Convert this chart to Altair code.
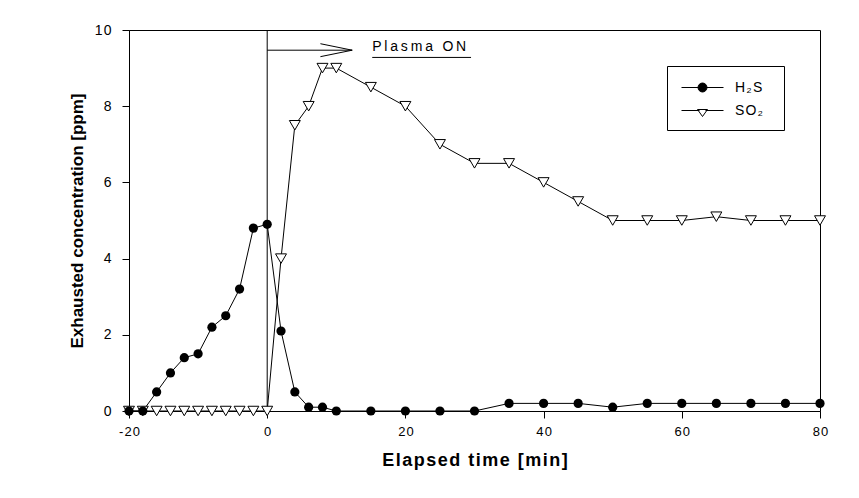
import altair as alt
import pandas as pd

# ---- data ----
time = [-20, -18, -16, -14, -12, -10, -8, -6, -4, -2, 0,
        2, 4, 6, 8, 10,
        15, 20, 25, 30, 35, 40, 45, 50, 55, 60, 65, 70, 75, 80]
h2s = [0, 0, 0.5, 1.0, 1.4, 1.5, 2.2, 2.5, 3.2, 4.8, 4.9,
       2.1, 0.5, 0.1, 0.1, 0.0,
       0.0, 0.0, 0.0, 0.0, 0.2, 0.2, 0.2, 0.1, 0.2, 0.2, 0.2, 0.2, 0.2, 0.2]
so2 = [0, 0, 0, 0, 0, 0, 0, 0, 0, 0, 0,
       4.0, 7.5, 8.0, 9.0, 9.0,
       8.5, 8.0, 7.0, 6.5, 6.5, 6.0, 5.5, 5.0, 5.0, 5.0, 5.1, 5.0, 5.0, 5.0]
series_names = ["H\u2082S", "SO\u2082"]

x_ticks = [-20, 0, 20, 40, 60, 80]
y_ticks = [0, 2, 4, 6, 8, 10]

# annotation (data units)
onset_t = 0
arrow_y = 9.47
arrow_tip = 12.3
arrow_back = 7.7
arrow_half = 0.17
note_text = "Plasma ON"
note_t = 15.2
note_y = 9.55
underline_t = [15.2, 29.5]
underline_y = 9.28

FONT = "Liberation Sans"
HAIR = "\u200a"


def spaced(s, sep="\u2009"):
    return sep.join(s)


df = pd.DataFrame({
    "t": time * 2,
    "v": h2s + so2,
    "series": [series_names[0]] * len(time) + [series_names[1]] * len(time),
})

xscale = alt.Scale(domain=[-20, 80], nice=False, zero=False)
yscale = alt.Scale(domain=[0, 10], nice=False)

spaced_label = "join(split(replace(datum.label, '\u2212', '-'), ''), '\u200a')"

xaxis = alt.Axis(values=x_ticks, title=spaced("Elapsed time [min]", HAIR), grid=False,
                 labelFont=FONT, labelFontSize=13, labelColor="black",
                 labelFlush=False, labelExpr=spaced_label,
                 titleFont=FONT, titleFontSize=18, titleFontWeight="bold",
                 titleColor="black", titlePadding=13, labelPadding=7,
                 tickSize=7, tickColor="black", domainColor="black")
yaxis = alt.Axis(values=y_ticks, title="Exhausted concentration [ppm]", grid=False,
                 labelFont=FONT, labelFontSize=14, labelColor="black",
                 labelFlush=False, labelExpr=spaced_label,
                 titleFont=FONT, titleFontSize=17, titleFontWeight="bold",
                 titleColor="black", titlePadding=8, labelPadding=11,
                 tickSize=7, tickColor="black", domainColor="black")

base = alt.Chart(df)

lines = base.mark_line(color="black", strokeWidth=1).encode(
    x=alt.X("t:Q", scale=xscale, axis=xaxis),
    y=alt.Y("v:Q", scale=yscale, axis=yaxis),
    detail="series:N",
)

pts_h2s = base.transform_filter(alt.datum.series == series_names[0]).mark_point(
    shape="circle", filled=True, color="black", size=85, opacity=1
).encode(x="t:Q", y="v:Q")

pts_so2 = base.transform_filter(alt.datum.series == series_names[1]).mark_point(
    shape="triangle-down", filled=True, fill="white", stroke="black",
    strokeWidth=1, size=120, opacity=1
).encode(x="t:Q", y="v:Q")

onset = alt.Chart(pd.DataFrame({"t": [onset_t], "y0": [0], "y1": [10]})).mark_rule(
    color="black", strokeWidth=1
).encode(x="t:Q", y="y0:Q", y2="y1:Q")

arrow_df = pd.DataFrame({
    "t": [onset_t, arrow_tip, arrow_back, arrow_tip, arrow_tip, arrow_back],
    "y": [arrow_y, arrow_y, arrow_y + arrow_half, arrow_y, arrow_y, arrow_y - arrow_half],
    "seg": ["a", "a", "b", "b", "c", "c"],
    "o": [0, 1, 0, 1, 0, 1],
})
arrow = alt.Chart(arrow_df).mark_line(color="black", strokeWidth=1).encode(
    x="t:Q", y="y:Q", detail="seg:N", order="o:Q"
)

note = alt.Chart(pd.DataFrame({"t": [note_t], "y": [note_y], "txt": [spaced(note_text)]})).mark_text(
    align="left", baseline="middle", font=FONT, fontSize=14, color="black"
).encode(x="t:Q", y="y:Q", text="txt:N")

underline = alt.Chart(pd.DataFrame({"t": [underline_t[0]], "t2": [underline_t[1]], "y": [underline_y]})).mark_rule(
    color="black", strokeWidth=1
).encode(x="t:Q", x2="t2:Q", y="y:Q")

# legend-only layer (no marks drawn) with line+marker symbols
circ_path = ("M-2.1,0L2.1,0M-0.45,0A0.45,0.45 0 1,0 0.45,0"
             "A0.45,0.45 0 1,0 -0.45,0Z")
tri_path = "M-2.1,0L-0.3,0M0.3,0L2.1,0M-0.5,-0.1L0.5,-0.1L0,0.6Z"
leg = alt.Legend(title=None, orient="none", legendX=538, legendY=36,
                 strokeColor="black", fillColor="white", padding=11,
                 labelFont=FONT, labelFontSize=14, labelColor="black",
                 labelExpr="join(split(datum.label, ''), '\u200a') + '\u2800'",
                 symbolSize=400, symbolStrokeWidth=1,
                 rowPadding=5, labelOffset=22, symbolOffset=14,
                 cornerRadius=0)
legend_layer = alt.Chart(df).transform_filter("false").mark_point(
    filled=True, strokeWidth=1, size=400, opacity=1
).encode(
    shape=alt.Shape("series:N", scale=alt.Scale(domain=series_names, range=[circ_path, tri_path]), legend=leg),
    fill=alt.Fill("series:N", scale=alt.Scale(domain=series_names, range=["black", "white"]), legend=leg),
    stroke=alt.Stroke("series:N", scale=alt.Scale(domain=series_names, range=["black", "black"]), legend=leg),
)

chart = alt.layer(onset, arrow, underline, note, lines, pts_so2, pts_h2s, legend_layer).properties(
    width=691, height=381,
    autosize=alt.AutoSizeParams(type="none"),
    padding={"left": 121, "top": 22, "right": 30, "bottom": 70},
    background="white",
).configure_view(stroke="black", strokeWidth=1)

chart.save("out.html", embed_options={"renderer": "svg", "actions": False})
